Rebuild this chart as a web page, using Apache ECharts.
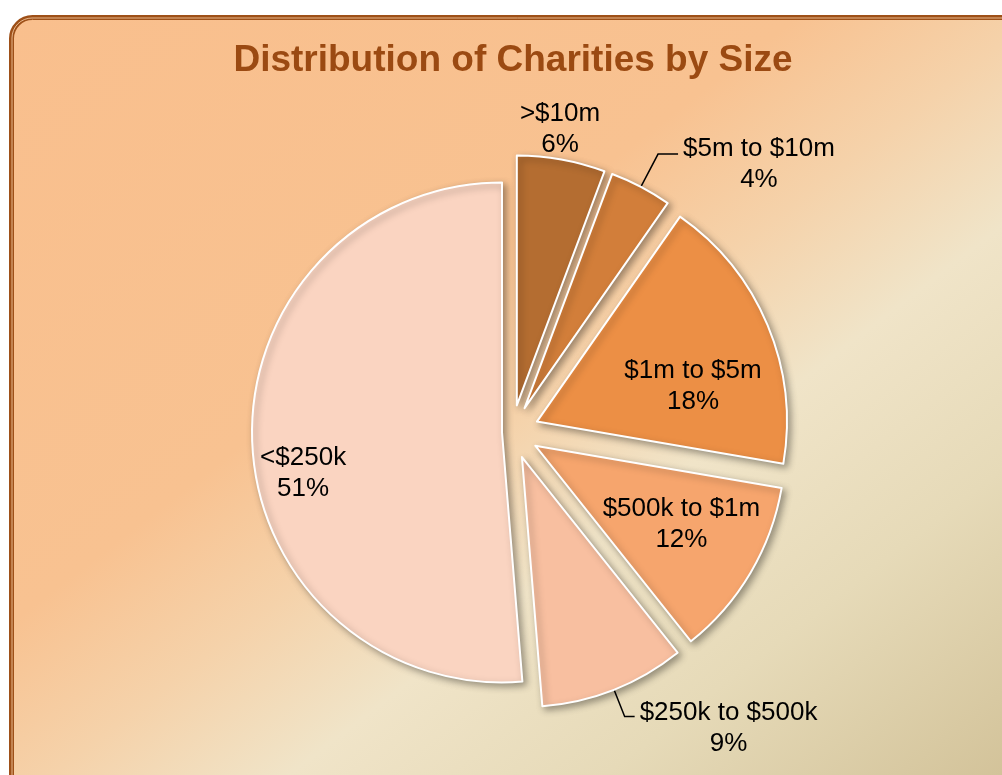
<!DOCTYPE html>
<html><head><meta charset="utf-8">
<script src="https://cdn.jsdelivr.net/npm/echarts@6/dist/echarts.min.js"></script>
<style>html,body{margin:0;padding:0;background:#fff;overflow:hidden}#c{width:1002px;height:775px}</style>
</head><body><div id="c"></div>
<script>
// ---- data ----
const TITLE = 'Distribution of Charities by Size';
const categories = ['>$10m', '$5m to $10m', '$1m to $5m', '$500k to $1m', '$250k to $500k', '<$250k'];
const shares = [5.7, 4.0, 18.0, 11.6, 9.4, 51.3];

// ---- styling ----
const COLORS = ['#b46d31', '#d27e3a', '#ec8f45', '#f6a56d', '#f8bfa0', '#fad4c1'];
const EXPLODE = [27, 27, 27, 27, 27, 10];
const LABEL_POS = ['outside', 'outside', 'inside', 'inside', 'outside', 'inside'];
const LINE_LEN = [[37, 20], [37, 20], [0, 0], [0, 0], [29, 10], [0, 0]];
const SHOW_LINE = [false, true, false, false, true, false];
const NUDGE = [[-72, 6], [1, 10], [38, 14], [36, 13], [1, 12], [-71, 36]];
const PIE_CENTER = [512, 432];
const RADIUS = 250;
const FONT = 'Liberation Sans, Arial, sans-serif';

const chart = echarts.init(document.getElementById('c'), null, {renderer: 'canvas'});
const total = shares.reduce((a, b) => a + b, 0);
let acc = 0;
const series = categories.map((name, i) => {
  const start = acc / total * 360; acc += shares[i]; const end = acc / total * 360;
  const mid = (start + end) / 2 * Math.PI / 180;
  const cx = PIE_CENTER[0] + EXPLODE[i] * Math.sin(mid);
  const cy = PIE_CENTER[1] - EXPLODE[i] * Math.cos(mid);
  return {
    type: 'pie',
    center: [cx, cy],
    radius: RADIUS,
    startAngle: 90,
    clockwise: true,
    avoidLabelOverlap: false,
    percentPrecision: 0,
    animation: false,
    silent: true,
    z: 2,
    labelLayout: function (p) {
      const r = p.labelRect; const n = NUDGE[p.dataIndex];
      return {
        x: r.x + r.width / 2 + n[0], y: r.y + r.height / 2 + n[1],
        align: 'center', verticalAlign: 'middle',
        labelLinePoints: p.labelLinePoints
      };
    },
    data: categories.map((n, j) => j === i ? {
      name: n, value: shares[j],
      itemStyle: {color: COLORS[j], borderColor: '#ffffff', borderWidth: 2,
        shadowBlur: 7, shadowColor: 'rgba(0,0,0,0.35)', shadowOffsetX: 3, shadowOffsetY: 3},
      label: {show: true, position: LABEL_POS[j], formatter: '{b}\n{d}%',
        fontSize: 26, lineHeight: 31, fontFamily: FONT, color: '#000', distanceToLabelLine: 4},
      labelLine: {show: SHOW_LINE[j], length: LINE_LEN[j][0], length2: LINE_LEN[j][1],
        lineStyle: {color: '#000', width: 1.5}}
    } : {
      name: n, value: shares[j],
      itemStyle: {color: 'rgba(0,0,0,0)', borderWidth: 0, shadowBlur: 0, shadowColor: 'rgba(0,0,0,0)'},
      label: {show: false}, labelLine: {show: false}
    })
  };
});

const bgGrad = new echarts.graphic.LinearGradient(9, 15, 745, 972, [
  {offset: 0, color: '#f9bf8d'},
  {offset: 0.40, color: '#f8c291'},
  {offset: 0.52, color: '#f5d2aa'},
  {offset: 0.64, color: '#f0e4c8'},
  {offset: 0.80, color: '#e6dab8'},
  {offset: 1, color: '#d3c39a'}
], true);

chart.setOption({
  animation: false,
  backgroundColor: '#ffffff',
  title: {
    text: TITLE, left: 508, top: 34, textAlign: 'center',
    textStyle: {fontSize: 37, fontWeight: 'bold', color: '#9b4a12', fontFamily: FONT, lineHeight: 44}
  },
  graphic: [
    {type: 'rect', z: -10, silent: true, shape: {x: 11.5, y: 17.5, width: 1100, height: 900, r: 21},
      style: {fill: bgGrad, stroke: '#9e5018', lineWidth: 5}},
    {type: 'rect', z: -9, silent: true, shape: {x: 12, y: 18, width: 1100, height: 900, r: 20},
      style: {fill: null, stroke: 'rgba(250,210,170,0.8)', lineWidth: 1}}
  ],
  series: series
});
</script></body></html>
